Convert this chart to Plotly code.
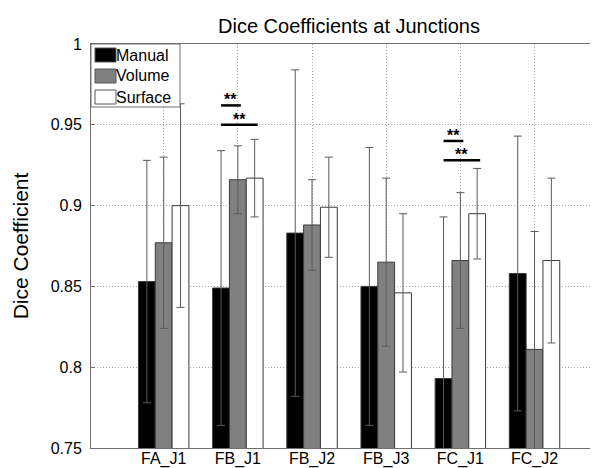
import plotly.graph_objects as go

categories = ["FA_J1", "FB_J1", "FB_J2", "FB_J3", "FC_J1", "FC_J2"]
series_names = ["Manual", "Volume", "Surface"]
manual = [0.853, 0.849, 0.883, 0.850, 0.793, 0.858]
manual_err = [0.075, 0.085, 0.101, 0.086, 0.100, 0.085]
volume = [0.877, 0.916, 0.888, 0.865, 0.866, 0.811]
volume_err = [0.053, 0.021, 0.028, 0.052, 0.042, 0.073]
surface = [0.900, 0.917, 0.899, 0.846, 0.895, 0.866]
surface_err = [0.063, 0.024, 0.031, 0.049, 0.028, 0.051]
colors = ["#000000", "#808080", "#ffffff"]

# significance markers: (group index, series a, series b, y level)
sig_groups = [1, 1, 4, 4]
sig_a = [0, 0, 0, 0]
sig_b = [1, 2, 1, 2]
sig_y = [0.962, 0.950, 0.940, 0.928]
sig_text = ["**", "**", "**", "**"]

W, H = 598, 468
ML, MR, MT, MB = 83, 1, 36, 28
PW, PH = W - ML - MR, H - MT - MB


def px_x(p):
    return (p - ML) / PW


def px_y(p):
    return 1 - (p - MT) / PH


x_idx = list(range(len(categories)))
bargap = 0.32
bar_w = (1 - bargap) / 3

fig = go.Figure()
for name, vals, errs, col in zip(series_names, [manual, volume, surface],
                                 [manual_err, volume_err, surface_err], colors):
    fig.add_trace(go.Bar(
        x=x_idx, y=vals, name=name, showlegend=False,
        marker=dict(color=col, line=dict(color="#3a3a3a", width=1)),
        error_y=dict(type="data", array=errs, visible=True,
                     color="#5a5a5a", thickness=1, width=4),
    ))

for g, a, b, yv, t in zip(sig_groups, sig_a, sig_b, sig_y, sig_text):
    xa = g + (a - 1) * bar_w
    xb = g + (b - 1) * bar_w + 0.04
    fig.add_shape(type="line", xref="x", yref="y", x0=xa, x1=xb, y0=yv, y1=yv,
                  line=dict(color="black", width=2.5))
    fig.add_annotation(x=(xa + xb) / 2, y=yv, xref="x", yref="y", text="<b>" + t + "</b>",
                       showarrow=False, yanchor="bottom", yshift=-5,
                       font=dict(size=16, color="black"))

# legend box (drawn in paper coordinates, top-left inside the axes)
fig.add_shape(type="rect", xref="paper", yref="paper",
              x0=px_x(83), x1=px_x(172), y0=px_y(99), y1=px_y(36),
              fillcolor="white", line=dict(color="#707070", width=1), layer="above")
row_centers = [47, 68, 89]
for name, col, yc in zip(series_names, colors, row_centers):
    fig.add_shape(type="rect", xref="paper", yref="paper",
                  x0=px_x(87), x1=px_x(108), y0=px_y(yc + 7), y1=px_y(yc - 7),
                  fillcolor=col, line=dict(color="#555555", width=1), layer="above")
    fig.add_annotation(x=px_x(106), y=px_y(yc), xref="paper", yref="paper",
                       text=name, showarrow=False, xanchor="left", yanchor="middle",
                       font=dict(size=16, color="black"))

fig.update_layout(
    width=W, height=H,
    margin=dict(l=ML, r=MR, t=MT, b=MB),
    paper_bgcolor="white", plot_bgcolor="white",
    barmode="group", bargap=bargap, bargroupgap=0,
    font=dict(family="Liberation Sans, Arial, sans-serif", size=15, color="black"),
    title=dict(text="Dice Coefficients at Junctions", x=341 / W, xanchor="center",
               y=1 - 18 / H, yanchor="middle", yref="container",
               font=dict(size=20, color="black")),
    showlegend=False,
)
fig.update_xaxes(
    range=[-0.98, 5.95], tickvals=x_idx, ticktext=categories,
    showgrid=True, gridcolor="#a8a8a8", griddash="1px,2px", gridwidth=1,
    showline=True, linecolor="#707070", mirror=True,
    ticks="outside", ticklen=0, zeroline=False,
    tickfont=dict(size=16), ticklabelstandoff=-4,
)
fig.update_yaxes(
    range=[0.75, 1.0], tickvals=[0.75, 0.8, 0.85, 0.9, 0.95, 1.0],
    ticktext=["0.75", "0.8", "0.85", "0.9", "0.95", "1"],
    showgrid=True, gridcolor="#a8a8a8", griddash="1px,2px", gridwidth=1,
    showline=True, linecolor="#707070", mirror="ticks",
    ticks="inside", ticklen=4, tickcolor="#707070", zeroline=False,
    tickfont=dict(size=16), ticklabelstandoff=5,
    title=dict(text="Dice Coefficient", font=dict(size=21), standoff=16),
)
fig.write_html("out.html")
